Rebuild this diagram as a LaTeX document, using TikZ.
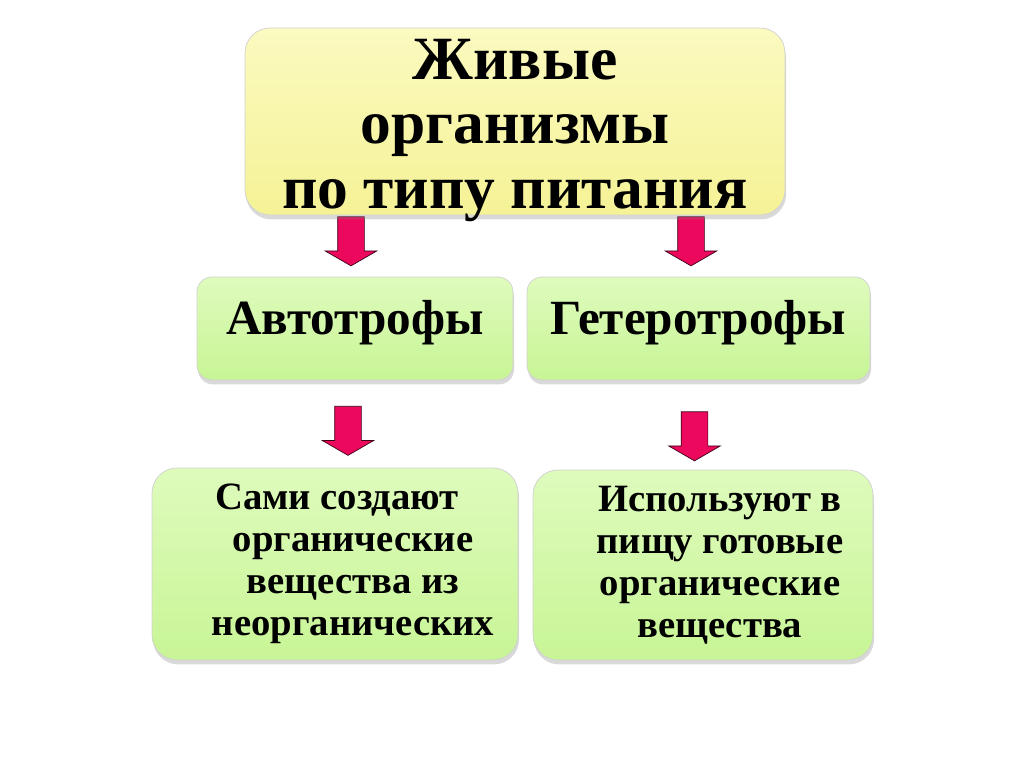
\documentclass[tikz,border=0pt]{standalone}
\usepackage{fontspec}
\setmainfont{Liberation Serif}
\usetikzlibrary{positioning,shapes.arrows,shadows}
\definecolor{titleyellow}{RGB}{245,242,150}
\definecolor{titleyellowtop}{RGB}{251,250,192}
\definecolor{groupgreen}{RGB}{200,245,150}
\definecolor{groupgreentop}{RGB}{222,251,188}
\definecolor{arrowpink}{RGB}{236,8,92}

\begin{document}
\begin{tikzpicture}[
    every node/.style={inner sep=0pt},
    boxshadow/.style={drop shadow={opacity=0.3,shadow xshift=0.6pt,shadow yshift=-2.5pt}},
    titlebox/.style={rectangle,rounded corners=0.5cm,draw=black!18,thin,
      top color=titleyellowtop,bottom color=titleyellow,boxshadow,
      minimum width=10.8cm,minimum height=3.74cm},
    titletext/.style={align=center,font=\bfseries\fontsize{35}{36.5}\selectfont},
    groupbox/.style={rectangle,rounded corners=0.3cm,draw=black!18,thin,
      top color=groupgreentop,bottom color=groupgreen,boxshadow,minimum height=2.06cm},
    grouptext/.style={align=center,font=\bfseries\fontsize{28}{30}\selectfont},
    notebox/.style={rectangle,rounded corners=0.5cm,draw=black!18,thin,
      top color=groupgreentop,bottom color=groupgreen,boxshadow},
    notetext/.style={align=center,font=\bfseries\fontsize{22}{24}\selectfont},
    downarrow/.style={single arrow,rotate=-90,fill=arrowpink,draw=black!75!arrowpink,thin,
      inner sep=0.26cm,minimum height=0.98cm,single arrow head extend=0.25cm,
      single arrow tip angle=120}
  ]
    \useasboundingbox (0,0) rectangle (20.48,-15.34);

    % arrows first, the top box covers their ends
    \node[downarrow] (toauto) at (7.02,-4.75) {};
    \node[downarrow] (tohetero) at (13.82,-4.75) {};
    \node[downarrow] (autodown) at (6.96,-8.54) {};
    \node[downarrow] (heterodown) at (13.89,-8.65) {};

    \node[titlebox,label={[titletext,yshift=-0.18cm]center:{Живые\\организмы\\по типу питания}}]
      (living) at (10.3,-2.43) {};

    \node[groupbox,minimum width=6.32cm,label={[grouptext,yshift=0.12cm]center:Автотрофы}]
      (auto) at (7.1,-6.57) {};
    \node[groupbox,minimum width=6.86cm,label={[grouptext,yshift=0.12cm]center:Гетеротрофы}]
      (hetero) at (13.97,-6.57) {};

    \node[notebox,minimum width=7.32cm,minimum height=3.84cm,
      label={[notetext,xshift=0.36cm]center:{Сами создают\hspace*{0.64cm}\\органические\\вещества из\\неорганических}}]
      (autofood) at (6.7,-11.28) {};
    \node[notebox,minimum width=6.8cm,minimum height=3.8cm,
      label={[notetext,xshift=0.34cm]center:{Используют в\\пищу готовые\\органические\\вещества}}]
      (heterofood) at (14.06,-11.3) {};
  \end{tikzpicture}
\end{document}
